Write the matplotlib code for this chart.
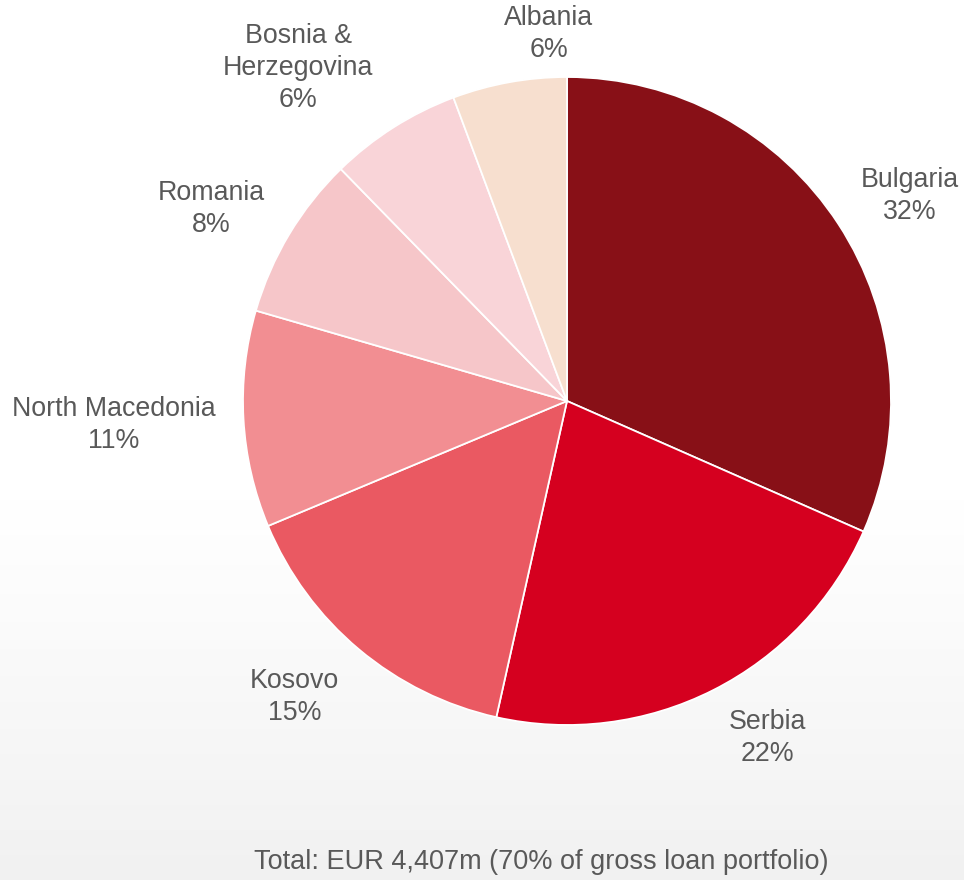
import numpy as np
import matplotlib
matplotlib.use("Agg")
import matplotlib.pyplot as plt

# verileri resimden okunan paylar (%)
ulkeler = ["Bulgaria", "Serbia", "Kosovo", "North Macedonia", "Romania",
           "Bosnia &\nHerzegovina", "Albania"]
paylar = [31.6, 21.9, 15.2, 10.8, 8.2, 6.6, 5.7]
etiket_yuzde = ["32%", "22%", "15%", "11%", "8%", "6%", "6%"]
renkler = ["#881017", "#D5001F", "#EA5962", "#F28E92", "#F6C6C9", "#F9D4D8", "#F7DFCF"]
baslik = "Total: EUR 4,407m (70% of gross loan portfolio)"

# etiket konumlari (yaricap birimi)
etiket_xy = [(1.059, 0.633), (0.620, -1.040), (-0.840, -0.914), (-1.398, -0.074),
             (-1.099, 0.593), (-0.830, 1.028), (-0.056, 1.133)]

plt.rcParams['font.family'] = ['Liberation Sans', 'DejaVu Sans']

W, H = 964, 880
fig = plt.figure(figsize=(W / 100, H / 100), dpi=100)

# arka plan: alta dogru hafif gri gecis
bg = fig.add_axes([0, 0, 1, 1], zorder=0)
g = np.ones((H, 1))
start = 500
g[start:, 0] = 1 - 0.055 * ((np.arange(start, H) - start) / (H - start)) ** 1.1
bg.imshow(np.dstack([g, g, g]), aspect='auto', extent=[0, 1, 0, 1])
bg.axis('off')

ax = fig.add_axes([0, 0, 1, 1], zorder=1)
ax.patch.set_alpha(0)
R = 324
cx, cy = 567, 401
ax.pie(paylar, colors=renkler, startangle=90, counterclock=False, radius=1,
       wedgeprops=dict(edgecolor='white', linewidth=1.3))
ax.set_xlim(-cx / R, (W - cx) / R)
ax.set_ylim(-(H - cy) / R, cy / R)
ax.set_aspect('auto')
ax.axis('off')

for ad, yz, (x, y) in zip(ulkeler, etiket_yuzde, etiket_xy):
    ax.text(x, y, f"{ad}\n{yz}", ha='center', va='center', fontsize=19.3,
            color='#595959', linespacing=1.32)

fig.text(541 / W, 1 - 862 / H, baslik, ha='center', va='center', fontsize=19.5,
         color='#595959')

fig.savefig("out.png", dpi=100)
